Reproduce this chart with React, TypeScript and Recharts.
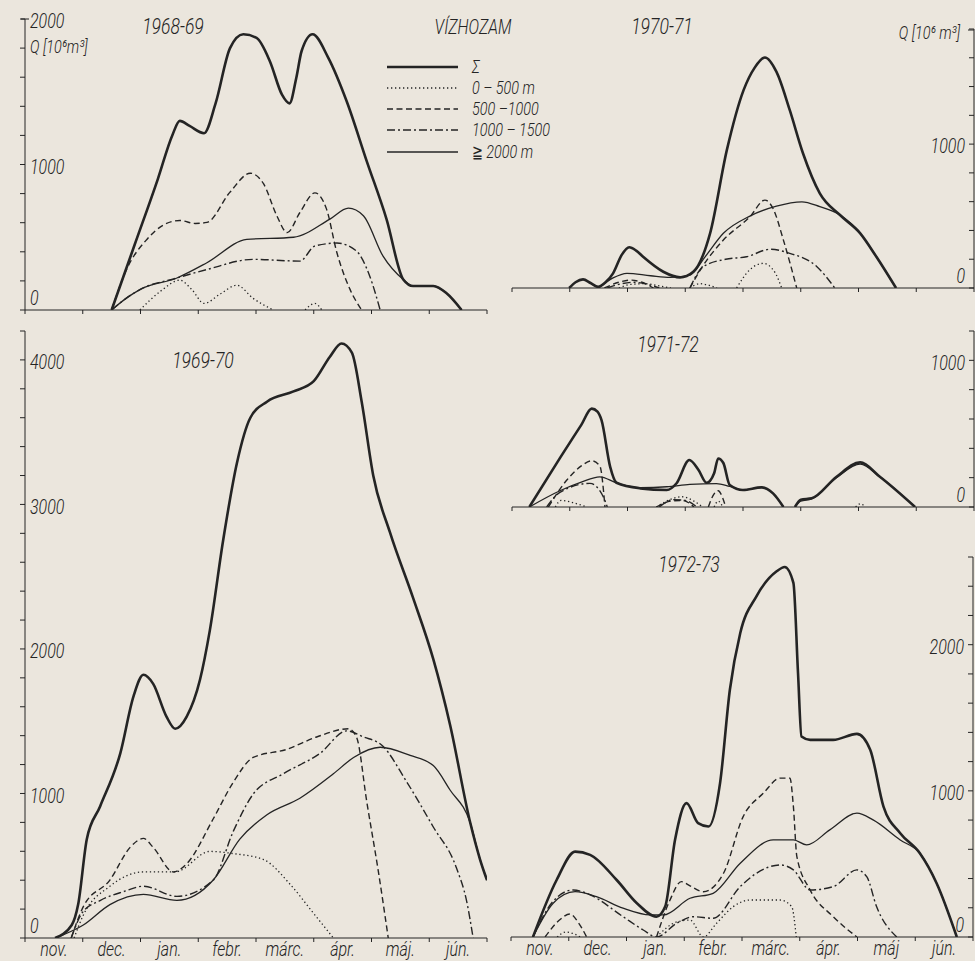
import React from 'react'
import { LineChart, Line, XAxis, YAxis } from 'recharts'

type Pt = [number, number] // [months since 1 Nov, Q in 10^6 m3]
type Kind = 'sum' | 'low' | 'mid' | 'high' | 'top'

// ── Labels ───────────────────────────────────────────────────────────────────
const MONTHS = ['nov.', 'dec.', 'jan.', 'febr.', 'márc.', 'ápr.', 'máj.', 'jún.']
const MONTHS_73 = ['nov.', 'dec.', 'jan.', 'febr.', 'márc.', 'ápr.', 'máj', 'jún.']
const LEGEND_LABELS = ['Σ', '0 – 500 m', '500 –1000', '1000 – 1500', '≧ 2000 m']
const LEGEND_KINDS: Kind[] = ['sum', 'low', 'mid', 'high', 'top']
const X_TICKS = [0, 0.5, 1, 1.5, 2, 2.5, 3, 3.5, 4, 4.5, 5, 5.5, 6, 6.5, 7, 7.5, 8]
const Y_TICKS_1800 = [0, 200, 400, 600, 800, 1000, 1200, 1400, 1600, 1800]
const Y_TICKS_2000 = [0, 200, 400, 600, 800, 1000, 1200, 1400, 1600, 1800, 2000]
const Y_TICKS_1200 = [0, 200, 400, 600, 800, 1000, 1200]
const Y_TICKS_2600 = [0, 200, 400, 600, 800, 1000, 1200, 1400, 1600, 1800, 2000, 2200, 2400, 2600]
const Y_TICKS_4200 = [0, 200, 400, 600, 800, 1000, 1200, 1400, 1600, 1800, 2000, 2200, 2400, 2600, 2800, 3000, 3200, 3400, 3600, 3800, 4000, 4200]

// ── 1968-69 ──────────────────────────────────────────────────────────────────
const sum6869: Pt[] = [[1.5, 0], [1.9, 450], [2.3, 900], [2.55, 1200], [2.68, 1300], [2.85, 1265], [3.1, 1215], [3.3, 1420], [3.55, 1800], [3.78, 1895], [4.01, 1870], [4.24, 1710], [4.45, 1480], [4.58, 1420], [4.7, 1600], [4.79, 1780], [4.98, 1895], [5.25, 1735], [5.57, 1435], [5.92, 1020], [6.26, 625], [6.55, 210], [6.72, 165], [7.07, 165], [7.3, 115], [7.56, 0]]
const top6869: Pt[] = [[1.5, 0], [1.75, 80], [1.99, 140], [2.63, 220], [3.15, 325], [3.84, 485], [4.65, 500], [5.28, 625], [5.6, 700], [5.86, 648], [6.2, 370], [6.55, 210], [6.72, 165], [7.07, 165], [7.3, 115], [7.56, 0]]
const mid6869: Pt[] = [[1.5, 0], [1.76, 280], [2.11, 485], [2.4, 585], [2.68, 615], [2.95, 595], [3.15, 602], [3.55, 810], [3.9, 940], [4.13, 868], [4.36, 648], [4.54, 532], [4.76, 670], [5.02, 805], [5.22, 695], [5.4, 395], [5.63, 140], [5.83, 0]]
const high6869: Pt[] = [[1.5, 0], [1.75, 80], [1.99, 140], [2.63, 220], [3.15, 278], [3.95, 348], [4.76, 336], [5.02, 440], [5.4, 460], [5.74, 405], [5.97, 232], [6.15, 0]]
const low6869a: Pt[] = [[1.99, 0], [2.35, 130], [2.68, 205], [2.89, 140], [3.1, 45], [3.38, 110], [3.67, 170], [3.95, 80], [4.3, 0]]
const low6869b: Pt[] = [[4.85, 0], [5.02, 45], [5.14, 0]]

// ── 1970-71 ──────────────────────────────────────────────────────────────────
const sum7071: Pt[] = [[0.99, 0], [1.1, 40], [1.23, 60], [1.36, 35], [1.49, 8], [1.62, 40], [1.75, 102], [1.9, 230], [2.03, 283], [2.15, 260], [2.27, 217], [2.62, 113], [2.91, 74], [3.14, 113], [3.43, 380], [3.72, 958], [4.01, 1375], [4.2, 1530], [4.38, 1602], [4.58, 1502], [4.81, 1236], [5.04, 935], [5.33, 658], [5.68, 507], [6.03, 380], [6.31, 217], [6.65, 0]]
const top7071: Pt[] = [[1.5, 0], [1.75, 70], [1.99, 102], [2.4, 85], [2.74, 74], [3.08, 90], [3.35, 220], [3.66, 380], [4.12, 500], [4.58, 569], [5.02, 599], [5.33, 565], [5.68, 507], [6.03, 380], [6.31, 217], [6.65, 0]]
const mid7071a: Pt[] = [[1.6, 0], [1.85, 40], [2.05, 55], [2.25, 40], [2.45, 0]]
const mid7071b: Pt[] = [[3.08, 0], [3.3, 150], [3.66, 333], [4.12, 495], [4.38, 611], [4.52, 553], [4.7, 333], [4.93, 0]]
const high7071a: Pt[] = [[1.65, 0], [1.9, 30], [2.1, 40], [2.35, 25], [2.55, 0]]
const high7071b: Pt[] = [[3.08, 0], [3.31, 148], [3.7, 200], [4.06, 217], [4.47, 269], [4.81, 241], [5.28, 148], [5.59, 0]]
const low7071a: Pt[] = [[1.85, 0], [2.05, 25], [2.3, 30], [2.55, 15], [2.75, 0]]
const low7071b: Pt[] = [[3.08, 0], [3.25, 30], [3.4, 20], [3.55, 0]]
const low7071c: Pt[] = [[3.89, 0], [4.1, 120], [4.35, 171], [4.55, 110], [4.67, 0]]

// ── 1971-72 ──────────────────────────────────────────────────────────────────
const sum7172a: Pt[] = [[0.3, 0], [0.84, 340], [1.2, 560], [1.38, 671], [1.48, 650], [1.55, 592], [1.7, 274], [1.81, 165], [2.22, 127], [2.68, 116], [2.85, 162], [3.07, 320], [3.23, 252], [3.37, 165], [3.5, 230], [3.57, 331], [3.66, 300], [3.77, 150], [4.0, 116], [4.32, 134], [4.52, 93], [4.7, 0]]
const sum7172b: Pt[] = [[4.9, 0], [5.0, 50], [5.19, 59], [5.62, 206], [6.03, 304], [6.37, 206], [6.98, 0]]
const top7172a: Pt[] = [[0.3, 0], [0.83, 111], [1.2, 170], [1.52, 206], [1.81, 165], [2.22, 132], [2.68, 138], [3.08, 154], [3.54, 160], [3.77, 140], [4.0, 116], [4.32, 134], [4.52, 93], [4.7, 0]]
const top7172b: Pt[] = [[4.9, 0], [5.0, 40], [5.19, 55], [5.62, 200], [6.03, 292], [6.37, 206], [6.98, 0]]
const mid7172a: Pt[] = [[0.63, 0], [0.95, 184], [1.2, 280], [1.38, 315], [1.52, 281], [1.61, 0]]
const mid7172b: Pt[] = [[2.5, 0], [2.75, 40], [2.95, 45], [3.15, 0]]
const mid7172c: Pt[] = [[3.4, 0], [3.5, 90], [3.57, 111], [3.65, 60], [3.7, 0]]
const high7172a: Pt[] = [[0.6, 0], [0.83, 100], [1.35, 161], [1.58, 70], [1.65, 0]]
const high7172b: Pt[] = [[2.55, 0], [2.8, 50], [3.0, 45], [3.2, 0]]
const low7172a: Pt[] = [[0.75, 0], [0.85, 45], [1.05, 30], [1.3, 0]]
const low7172b: Pt[] = [[2.5, 0], [2.8, 60], [2.95, 70], [3.15, 40], [3.3, 0]]
const low7172c: Pt[] = [[3.5, 0], [3.57, 40], [3.65, 0]]
const low7172d: Pt[] = [[5.95, 0], [6.03, 22], [6.12, 0]]

// ── 1969-70 ──────────────────────────────────────────────────────────────────
const sum6970: Pt[] = [[0.52, 0], [0.81, 90], [0.92, 231], [1.07, 684], [1.3, 910], [1.65, 1278], [1.88, 1674], [2.05, 1821], [2.22, 1758], [2.45, 1532], [2.6, 1448], [2.8, 1532], [3.03, 1787], [3.2, 2127], [3.43, 2749], [3.67, 3287], [3.9, 3598], [4.19, 3711], [4.65, 3782], [5.0, 3853], [5.28, 4022], [5.48, 4113], [5.66, 4050], [5.83, 3711], [6.03, 3201], [6.32, 2806], [6.72, 2353], [7.07, 1929], [7.36, 1476], [7.71, 797], [7.88, 543], [8.0, 400]]
const top6970: Pt[] = [[0.52, 0], [1.01, 90], [1.47, 231], [2.05, 302], [2.63, 260], [3.26, 401], [3.72, 684], [4.19, 853], [4.76, 967], [5.34, 1136], [5.69, 1249], [6.15, 1320], [6.67, 1263], [7.07, 1193], [7.36, 1024], [7.71, 797], [7.88, 543], [8.0, 400]]
const mid6970: Pt[] = [[0.8, 0], [1.01, 217], [1.47, 401], [1.82, 627], [2.05, 689], [2.22, 627], [2.57, 457], [2.8, 514], [3.26, 825], [3.61, 1080], [3.95, 1249], [4.53, 1305], [5.05, 1391], [5.6, 1448], [5.74, 1391], [5.92, 938], [6.12, 457], [6.29, 0]]
const high6970: Pt[] = [[0.8, 0], [1.0, 180], [1.3, 259], [1.7, 320], [2.05, 358], [2.63, 288], [3.26, 401], [3.61, 741], [3.95, 995], [4.47, 1136], [5.11, 1278], [5.57, 1433], [5.86, 1391], [6.18, 1334], [6.61, 1080], [7.07, 768], [7.47, 486], [7.65, 250], [7.76, 0]]
const low6970: Pt[] = [[0.85, 0], [1.0, 150], [1.47, 358], [2.05, 457], [2.6, 457], [3.2, 599], [3.61, 584], [4.13, 543], [4.59, 372], [4.99, 174], [5.34, 0]]

// ── 1972-73 ──────────────────────────────────────────────────────────────────
const sum7273: Pt[] = [[0.38, 0], [0.79, 390], [1.11, 584], [1.37, 562], [1.83, 390], [2.18, 231], [2.52, 139], [2.67, 208], [2.84, 664], [3.04, 916], [3.24, 779], [3.42, 756], [3.62, 1053], [3.79, 1692], [3.97, 2080], [4.25, 2331], [4.6, 2502], [4.74, 2532], [4.89, 2423], [4.97, 1806], [5.03, 1372], [5.18, 1349], [5.58, 1349], [5.99, 1390], [6.22, 1281], [6.45, 892], [6.74, 710], [7.08, 573], [7.37, 368], [7.72, 0]]
const top7273: Pt[] = [[0.38, 0], [0.73, 231], [1.11, 310], [1.48, 276], [1.94, 197], [2.41, 151], [2.64, 151], [3.1, 265], [3.5, 299], [3.97, 505], [4.54, 664], [4.89, 664], [5.12, 630], [5.52, 733], [5.99, 847], [6.27, 801], [6.74, 664], [7.08, 573], [7.37, 368], [7.72, 0]]
const mid7273a: Pt[] = [[0.59, 0], [0.85, 120], [1.02, 157], [1.18, 90], [1.31, 0]]
const mid7273b: Pt[] = [[2.52, 0], [2.75, 250], [2.95, 379], [3.1, 350], [3.33, 310], [3.68, 436], [4.02, 824], [4.37, 984], [4.66, 1087], [4.83, 1087], [4.89, 892], [4.95, 550], [5.18, 322], [5.58, 139], [5.99, 0]]
const high7273: Pt[] = [[0.38, 0], [0.73, 245], [1.08, 322], [1.37, 288], [1.94, 139], [2.29, 48], [2.52, 0], [2.87, 94], [3.16, 139], [3.5, 128], [3.97, 345], [4.25, 436], [4.66, 493], [4.89, 459], [5.18, 322], [5.58, 345], [5.99, 459], [6.16, 413], [6.33, 208], [6.68, 0]]
const low7273a: Pt[] = [[0.8, 0], [0.95, 34], [1.1, 20], [1.2, 0]]
const low7273b: Pt[] = [[2.52, 0], [2.87, 103], [3.1, 116], [3.33, 0], [3.56, 94], [3.85, 208], [4.14, 253], [4.66, 253], [4.86, 208], [4.94, 0]]

// ── Styles ───────────────────────────────────────────────────────────────────
const PAPER = '#ebe6dd'
const INK = '#242424'
const FONT = "'Roboto','DejaVu Sans Condensed','DejaVu Sans',sans-serif"
const SX = 0.8

const STYLE: Record<Kind, { strokeWidth: number; strokeDasharray?: string }> = {
  sum: { strokeWidth: 2.6 },
  low: { strokeWidth: 1.3, strokeDasharray: '1.3 2.7' },
  mid: { strokeWidth: 1.4, strokeDasharray: '6 3.5' },
  high: { strokeWidth: 1.4, strokeDasharray: '8 3 2 3' },
  top: { strokeWidth: 1.3 },
}

type Series = { kind: Kind; segs: Pt[][] }

function T({ x, y, size, anchor = 'middle', children }: {
  x: number; y: number; size: number; anchor?: 'start' | 'middle' | 'end'; children: React.ReactNode
}) {
  return (
    <text transform={`translate(${x},${y}) scale(${SX},1)`} textAnchor={anchor} dominantBaseline="central"
      fontSize={size} fontStyle="italic" fontWeight={300} fontFamily={FONT} fill={INK}>
      {children}
    </text>
  )
}

// ── One panel ────────────────────────────────────────────────────────────────
function Panel({ left, top, w, h, yMax, yTicks, side, months, series }: {
  left: number; top: number; w: number; h: number; yMax: number; yTicks: number[]
  side: 'left' | 'right'; months?: string[]; series: Series[]
}) {
  // axes get 1px of room (recharts skips axes of zero size)
  const m = { top: 16, right: side === 'right' ? 3 : 12, bottom: months ? 22 : 9, left: side === 'left' ? 9 : 12 }
  const plotL = m.left + (side === 'left' ? 1 : 0)
  const W = plotL + w + (side === 'right' ? 1 : 0) + m.right
  const H = m.top + h + 1 + m.bottom
  const axisX = side === 'left' ? plotL : plotL + w
  const baseY = m.top + h

  const xTick = (t: any) => {
    const v = t.payload.value as number
    const x = t.x as number
    if (Number.isInteger(v)) {
      return <line x1={x} x2={x} y1={baseY} y2={baseY + 4} stroke={INK} strokeWidth={1} />
    }
    if (!months) return <g />
    return <T x={x} y={baseY + 11} size={20}>{months[Math.floor(v)]}</T>
  }

  const yTick = (t: any) => {
    const v = t.payload.value as number
    const y = t.y as number
    const label = v % 1000 === 0
    const dy = v === 0 ? -12 : 2
    return (
      <g>
        <line x1={axisX - 5} x2={axisX} y1={y} y2={y} stroke={INK} strokeWidth={1} />
        {label && (side === 'left'
          ? <T x={axisX + 5} y={y + dy} size={20} anchor="start">{v}</T>
          : <T x={axisX - 9} y={y + dy} size={20} anchor="end">{v}</T>)}
      </g>
    )
  }

  const order: Kind[] = ['low', 'mid', 'high', 'top', 'sum']
  const lines: React.ReactNode[] = []
  order.forEach((kind) => {
    series.filter((s) => s.kind === kind).forEach((s, si) => {
      s.segs.forEach((seg, i) => {
        lines.push(
          <Line key={`${kind}-${si}-${i}`} data={seg.map(([mo, v]) => ({ m: mo, v }))} dataKey="v"
            type="monotone" stroke={INK} dot={false} activeDot={false} isAnimationActive={false}
            {...STYLE[kind]} />
        )
      })
    })
  })

  return (
    <div style={{ position: 'absolute', left: left - plotL, top: top - m.top }}>
      <LineChart width={W} height={H} margin={m}>
        <XAxis type="number" dataKey="m" domain={[0, 8]} ticks={X_TICKS} interval={0} allowDataOverflow
          height={1} axisLine={{ stroke: INK, strokeWidth: 1 }} tickLine={false} tick={xTick} />
        <YAxis type="number" domain={[0, yMax]} ticks={yTicks} interval={0} allowDataOverflow
          orientation={side} width={1} axisLine={{ stroke: INK, strokeWidth: 1 }} tickLine={false} tick={yTick} />
        {lines}
      </LineChart>
    </div>
  )
}

export default function App() {
  const legendYs = [67, 88, 109, 130, 152]
  return (
    <div style={{ position: 'absolute', left: 0, top: 0, width: 975, height: 961, background: PAPER, overflow: 'hidden' }}>
      <Panel left={25} top={19} w={462} h={291} yMax={2000} yTicks={Y_TICKS_2000} side="left"
        series={[
          { kind: 'sum', segs: [sum6869] },
          { kind: 'top', segs: [top6869] },
          { kind: 'mid', segs: [mid6869] },
          { kind: 'high', segs: [high6869] },
          { kind: 'low', segs: [low6869a, low6869b] },
        ]} />
      <Panel left={512} top={29} w={462} h={259} yMax={1800} yTicks={Y_TICKS_1800} side="right"
        series={[
          { kind: 'sum', segs: [sum7071] },
          { kind: 'top', segs: [top7071] },
          { kind: 'mid', segs: [mid7071a, mid7071b] },
          { kind: 'high', segs: [high7071a, high7071b] },
          { kind: 'low', segs: [low7071a, low7071b, low7071c] },
        ]} />
      <Panel left={512} top={331} w={462} h={176} yMax={1200} yTicks={Y_TICKS_1200} side="right"
        series={[
          { kind: 'sum', segs: [sum7172a, sum7172b] },
          { kind: 'top', segs: [top7172a, top7172b] },
          { kind: 'mid', segs: [mid7172a, mid7172b, mid7172c] },
          { kind: 'high', segs: [high7172a, high7172b] },
          { kind: 'low', segs: [low7172a, low7172b, low7172c, low7172d] },
        ]} />
      <Panel left={25} top={331} w={462} h={607} yMax={4200} yTicks={Y_TICKS_4200} side="left" months={MONTHS}
        series={[
          { kind: 'sum', segs: [sum6970] },
          { kind: 'top', segs: [top6970] },
          { kind: 'mid', segs: [mid6970] },
          { kind: 'high', segs: [high6970] },
          { kind: 'low', segs: [low6970] },
        ]} />
      <Panel left={511} top={557} w={462} h={380} yMax={2600} yTicks={Y_TICKS_2600} side="right" months={MONTHS_73}
        series={[
          { kind: 'sum', segs: [sum7273] },
          { kind: 'top', segs: [top7273] },
          { kind: 'mid', segs: [mid7273a, mid7273b] },
          { kind: 'high', segs: [high7273] },
          { kind: 'low', segs: [low7273a, low7273b] },
        ]} />

      <svg width={975} height={961} style={{ position: 'absolute', left: 0, top: 0, pointerEvents: 'none' }}>
        <T x={173} y={27} size={22}>1968-69</T>
        <T x={473} y={27} size={20}>VÍZHOZAM</T>
        <T x={662} y={27} size={22}>1970-71</T>
        <T x={668} y={345} size={22}>1971-72</T>
        <T x={203} y={361} size={22}>1969-70</T>
        <T x={689} y={565} size={22}>1972-73</T>
        <T x={30} y={47} size={18} anchor="start">Q [10⁶m³]</T>
        <T x={960} y={33} size={18} anchor="end">Q [10⁶ m³]</T>
        <path d="M968,30 L974,30" stroke={INK} strokeWidth={1} />
        <path d="M21,19 L29,19" stroke={INK} strokeWidth={1} />
        {LEGEND_LABELS.map((lab, i) => (
          <g key={lab}>
            <line x1={387} x2={458} y1={legendYs[i]} y2={legendYs[i]} stroke={INK} {...STYLE[LEGEND_KINDS[i]]} />
            <T x={472} y={legendYs[i]} size={18} anchor="start">{lab}</T>
          </g>
        ))}
      </svg>
    </div>
  )
}
